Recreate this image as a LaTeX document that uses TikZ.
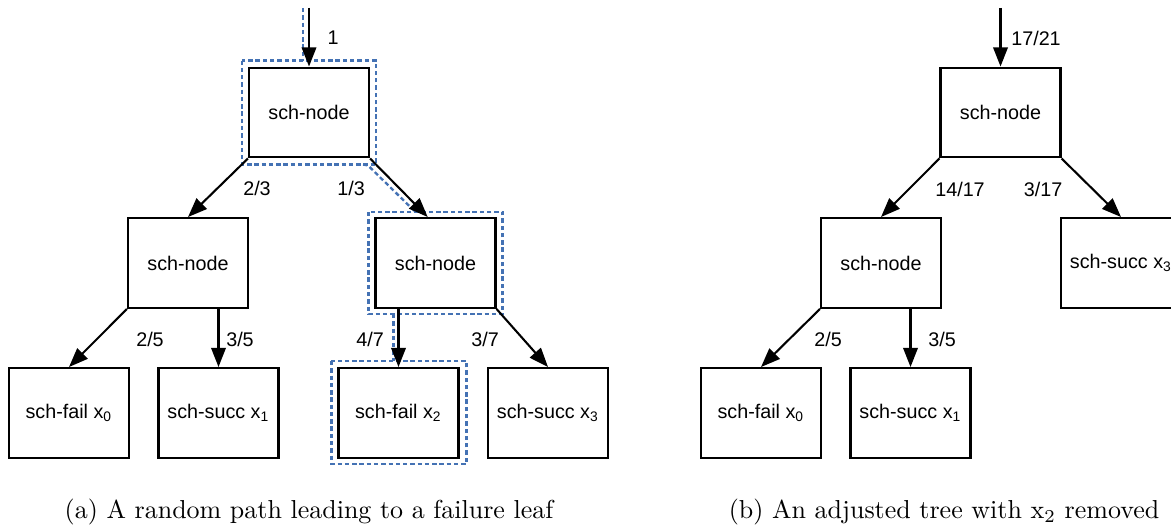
\documentclass[tikz,border=0pt]{standalone}
\usepackage{fontspec}
\newfontfamily\arialf{Liberation Sans}
\usetikzlibrary{arrows.meta,calc}
\definecolor{hl}{RGB}{68,114,180}
\begin{document}
\begin{tikzpicture}[x=0.385pt,y=-0.385pt,
  box/.style={draw,line width=0.8pt,minimum width=46.2pt,minimum height=34.6pt,inner sep=0pt,font=\arialf\fontsize{7.6}{9}\selectfont},
  arr/.style={line width=0.8pt,-{Triangle[length=7.4pt,width=5.6pt]}},
  lbl/.style={font=\arialf\fontsize{7.6}{9}\selectfont,inner sep=0pt},
  hlbox/.style={draw=hl,line width=0.9pt,dash pattern=on 1.7pt off 1.1pt},
  captext/.style={font=\fontsize{10}{12}\selectfont,inner sep=0pt}]
\useasboundingbox (0,0) rectangle (1171,529);
\clip (0,0) rectangle (1171,529);

% ---------- (a) ----------
\node[box] (ra) at (309,112.5) {sch-node};
\node[box] (la) at (188,263) {sch-node};
\node[box] (rca) at (435.5,263) {sch-node};
\node[box] (f0a) at (69,413) {sch-fail x\textsubscript{0}};
\node[box] (s1a) at (218.5,413) {sch-succ x\textsubscript{1}};
\node[box] (f2a) at (398.5,413) {sch-fail x\textsubscript{2}};
\node[box] (s3a) at (548,413) {sch-succ x\textsubscript{3}};
\coordinate (ta) at (309,8);

% highlight
\draw[hlbox] ([shift={(-6,-6)}]ra.north west) rectangle ([shift={(6,6)}]ra.south east);
\draw[hlbox] ([xshift=-2.3pt]ta) -- ([xshift=-2.3pt,yshift=2.3pt]ra.north);
\draw[hlbox] ([shift={(-7,6)}]ra.south east) -- ([shift={(-2,7)}]ra.south east) -- ([shift={(-20,-5)}]rca.north);
\draw[hlbox] ([shift={(-6,-5)}]rca.north west) rectangle ([shift={(6,5)}]rca.south east);
\draw[hlbox] ([shift={(-5,5)}]f2a.north |- rca.south) -- ([shift={(-5,-6)}]f2a.north);
\draw[hlbox] ([shift={(-6,-6)}]f2a.north west) rectangle ([shift={(7,5)}]f2a.south east);

\draw[arr] (ta) -- (ra.north);
\draw[arr] (ra.south west) -- (la.north);
\draw[arr] (ra.south east) -- ([xshift=-3pt]rca.north);
\draw[arr] (la.south west) -- (f0a.north);
\draw[arr] (s1a.north |- la.south) -- (s1a.north);
\draw[arr] (f2a.north |- rca.south) -- (f2a.north);
\draw[arr] (rca.south east) -- (s3a.north);

\node[lbl] at (333,38) {1};
\node[lbl] at (257,188) {2/3};
\node[lbl] at (351,188) {1/3};
\node[lbl] at (150,339) {2/5};
\node[lbl] at (240,339) {3/5};
\node[lbl] at (370,339) {4/7};
\node[lbl] at (485,339) {3/7};

% ---------- (b) ----------
\node[box] (rb) at (1000.5,112.5) {sch-node};
\node[box] (lb) at (881,263) {sch-node};
\node[box] (s3b) at (1121,263) {sch-succ x\textsubscript{3}};
\node[box] (f0b) at (761,413) {sch-fail x\textsubscript{0}};
\node[box] (s1b) at (910.5,413) {sch-succ x\textsubscript{1}};
\coordinate (tb) at (1000.5,8);

\draw[arr] (tb) -- (rb.north);
\draw[arr] (rb.south west) -- (lb.north);
\draw[arr] (rb.south east) -- (s3b.north);
\draw[arr] (lb.south west) -- (f0b.north);
\draw[arr] (s1b.north |- lb.south) -- (s1b.north);

\node[lbl] at (1036,38) {17/21};
\node[lbl] at (960,189) {14/17};
\node[lbl] at (1043,189) {3/17};
\node[lbl] at (828,339) {2/5};
\node[lbl] at (942,339) {3/5};

% captions
\node[captext] (capa) at (309,512) {(a) A random path leading to a failure leaf};
\node[captext] (capb) at (944,512) {(b) An adjusted tree with $\mathrm{x}_2$ removed};
\end{tikzpicture}
\end{document}
